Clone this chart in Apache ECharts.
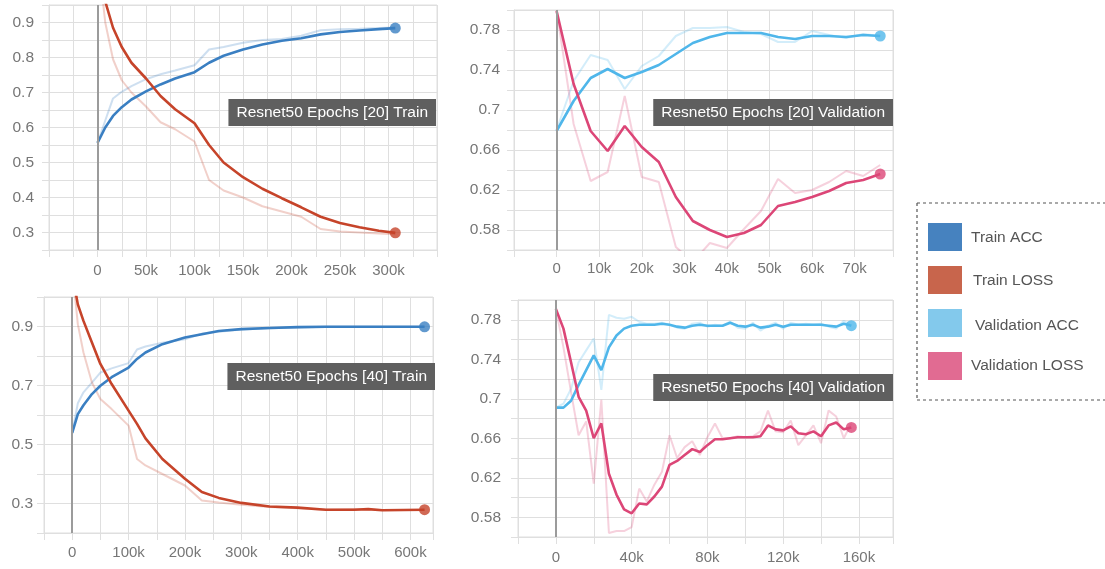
<!DOCTYPE html>
<html>
<head>
<meta charset="utf-8">
<title>Resnet50 training curves</title>
<script src="https://cdn.jsdelivr.net/npm/echarts@6/dist/echarts.min.js"></script>
<style>
  html, body { margin: 0; padding: 0; background: #fff; overflow: hidden; }
  #chart { width: 1105px; height: 569px; }
</style>
</head>
<body>
<div id="chart"></div>
<script>
// ---- Resnet50, 20 epochs: training (step, accuracy, loss) ----
const trainSteps20 = [0, 8000, 16000, 25000, 35000, 50000, 65000, 80000, 100000, 115000, 130000, 150000, 170000, 190000, 210000, 230000, 250000, 270000, 290000, 307000];
const trainAcc20     = [0.556, 0.600, 0.633, 0.658, 0.680, 0.703, 0.723, 0.740, 0.758, 0.785, 0.805, 0.823, 0.837, 0.848, 0.855, 0.866, 0.873, 0.877, 0.881, 0.884];
const trainAccRaw20  = [0.555, 0.620, 0.683, 0.702, 0.718, 0.738, 0.752, 0.763, 0.778, 0.823, 0.830, 0.842, 0.850, 0.853, 0.862, 0.878, 0.881, 0.882, 0.884, 0.886];
const trainLoss20    = [1.080, 0.960, 0.885, 0.830, 0.785, 0.740, 0.690, 0.652, 0.612, 0.550, 0.500, 0.458, 0.425, 0.398, 0.372, 0.345, 0.327, 0.315, 0.305, 0.299];
const trainLossRaw20 = [1.100, 0.900, 0.795, 0.735, 0.700, 0.660, 0.615, 0.595, 0.560, 0.450, 0.420, 0.400, 0.375, 0.360, 0.345, 0.310, 0.303, 0.300, 0.297, 0.295];

// ---- Resnet50, 20 epochs: validation ----
const valSteps20 = [0, 4000, 8000, 12000, 16000, 20000, 24000, 28000, 32000, 36000, 40000, 44000, 48000, 52000, 56000, 60000, 64000, 68000, 72000, 76000];
const valAcc20     = [0.679, 0.709, 0.732, 0.741, 0.732, 0.738, 0.745, 0.756, 0.767, 0.773, 0.777, 0.777, 0.777, 0.773, 0.771, 0.774, 0.774, 0.773, 0.775, 0.774];
const valAccRaw20  = [0.680, 0.729, 0.755, 0.750, 0.721, 0.744, 0.754, 0.774, 0.782, 0.782, 0.783, 0.778, 0.776, 0.768, 0.768, 0.779, 0.775, 0.772, 0.776, 0.774];
const valLoss20    = [0.799, 0.726, 0.679, 0.659, 0.684, 0.663, 0.648, 0.613, 0.589, 0.580, 0.573, 0.577, 0.585, 0.604, 0.608, 0.613, 0.619, 0.627, 0.630, 0.636];
const valLossRaw20 = [0.800, 0.686, 0.629, 0.638, 0.714, 0.633, 0.628, 0.563, 0.548, 0.567, 0.562, 0.581, 0.599, 0.631, 0.617, 0.620, 0.628, 0.639, 0.634, 0.645];

// ---- Resnet50, 40 epochs: training ----
const trainSteps40 = [0, 10000, 20000, 35000, 50000, 70000, 100000, 115000, 130000, 160000, 200000, 230000, 260000, 300000, 350000, 400000, 450000, 500000, 525000, 550000, 625000];
const trainAcc40     = [0.539, 0.603, 0.633, 0.671, 0.699, 0.728, 0.761, 0.790, 0.812, 0.840, 0.863, 0.874, 0.885, 0.891, 0.895, 0.898, 0.899, 0.899, 0.899, 0.899, 0.899];
const trainAccRaw40  = [0.539, 0.640, 0.677, 0.710, 0.744, 0.758, 0.776, 0.822, 0.832, 0.845, 0.857, 0.876, 0.882, 0.890, 0.894, 0.897, 0.899, 0.899, 0.899, 0.899, 0.899];
const trainLoss40    = [1.080, 0.975, 0.919, 0.846, 0.773, 0.705, 0.615, 0.570, 0.521, 0.451, 0.384, 0.339, 0.319, 0.302, 0.290, 0.286, 0.279, 0.279, 0.281, 0.277, 0.279];
const trainLossRaw40 = [1.100, 0.908, 0.812, 0.710, 0.654, 0.620, 0.564, 0.451, 0.429, 0.400, 0.361, 0.310, 0.303, 0.296, 0.288, 0.284, 0.279, 0.281, 0.280, 0.278, 0.278];

// ---- Resnet50, 40 epochs: validation ----
const valSteps40 = [0, 4000, 8000, 12000, 16000, 20000, 24000, 28000, 32000, 36000, 40000, 44000, 48000, 52000, 56000, 60000, 64000, 68000, 72000, 76000,
                    80000, 84000, 88000, 92000, 96000, 100000, 104000, 108000, 112000, 116000, 120000, 124000, 128000, 132000, 136000, 140000, 144000, 148000, 152000, 156000];
const valAcc40     = [0.691, 0.691, 0.698, 0.714, 0.729, 0.744, 0.729, 0.752, 0.764, 0.771, 0.774, 0.775, 0.775, 0.775, 0.776, 0.775, 0.773, 0.772, 0.774, 0.775,
                      0.774, 0.774, 0.774, 0.777, 0.774, 0.773, 0.775, 0.772, 0.773, 0.775, 0.773, 0.775, 0.775, 0.775, 0.775, 0.775, 0.774, 0.773, 0.776, 0.774];
const valAccRaw40  = [0.691, 0.695, 0.710, 0.737, 0.749, 0.761, 0.709, 0.785, 0.782, 0.781, 0.783, 0.778, 0.776, 0.776, 0.777, 0.775, 0.772, 0.771, 0.776, 0.777,
                      0.773, 0.775, 0.774, 0.778, 0.772, 0.771, 0.777, 0.769, 0.774, 0.777, 0.771, 0.777, 0.775, 0.776, 0.775, 0.776, 0.773, 0.771, 0.779, 0.774];
const valLoss40    = [0.791, 0.771, 0.737, 0.702, 0.688, 0.660, 0.675, 0.624, 0.603, 0.588, 0.584, 0.594, 0.593, 0.601, 0.611, 0.633, 0.637, 0.643, 0.649, 0.646,
                      0.653, 0.659, 0.659, 0.660, 0.661, 0.661, 0.661, 0.662, 0.673, 0.669, 0.668, 0.672, 0.665, 0.664, 0.667, 0.662, 0.673, 0.676, 0.669, 0.671];
const valLossRaw40 = [0.791, 0.752, 0.707, 0.663, 0.677, 0.614, 0.699, 0.564, 0.566, 0.566, 0.570, 0.609, 0.596, 0.613, 0.626, 0.663, 0.640, 0.651, 0.657, 0.643,
                      0.661, 0.675, 0.660, 0.660, 0.662, 0.661, 0.662, 0.667, 0.688, 0.667, 0.666, 0.678, 0.653, 0.663, 0.673, 0.655, 0.688, 0.682, 0.660, 0.675];

// ---- text ----
const panelTitles = ['Resnet50 Epochs [20] Train', 'Resnet50 Epochs [20] Validation', 'Resnet50 Epochs [40] Train', 'Resnet50 Epochs [40] Validation'];
const legendNames = ['Train ACC', 'Train LOSS', 'Validation ACC', 'Validation LOSS'];

// ---- styling ----
const FONT = '"Liberation Sans", Arial, Helvetica, sans-serif';
const GRID_COLOR = '#dfdfdf';
const LABEL_COLOR = '#767676';
const COLORS = {
  trainAcc: '#3a7fc2',
  trainLoss: '#c6442a',
  valAcc: '#4fb6ea',
  valLoss: '#dc4677'
};
const SWATCHES = ['#4682bf', '#c8654c', '#83c9ec', '#e16b92'];

function pairs(xs, ys) { return xs.map((x, i) => [x, ys[i]]); }
function kLabel(v) { return v === 0 ? '0' : (v / 1000) + 'k'; }

const grids = [];
const xAxes = [];
const yAxes = [];
const series = [];
const titles = [];

function addPanel(p) {
  const idx = grids.length;
  grids.push({
    left: p.grid[0], top: p.grid[1], width: p.grid[2], height: p.grid[3],
    show: true, borderColor: GRID_COLOR, borderWidth: 1, backgroundColor: 'transparent',
    containLabel: false, outerBoundsMode: 'none'
  });
  xAxes.push({
    type: 'value', gridIndex: idx, min: p.x.min, max: p.x.max, interval: p.x.interval,
    axisLine: { show: true, onZero: false, lineStyle: { color: GRID_COLOR, width: 1 } },
    axisTick: { show: true, length: 7, lineStyle: { color: GRID_COLOR } },
    splitLine: { show: true, lineStyle: { color: GRID_COLOR, width: 1 } },
    axisLabel: {
      color: LABEL_COLOR, fontFamily: FONT, fontSize: 15, margin: p.x.margin,
      showMinLabel: true, showMaxLabel: true,
      formatter: v => {
        const r = Math.round(v);
        if (r < 0 || r > p.x.lastLabel || r % p.x.labelStep !== 0) return '';
        return kLabel(r);
      }
    }
  });
  yAxes.push({
    type: 'value', gridIndex: idx, min: p.y.min, max: p.y.max, interval: p.y.interval,
    axisLine: { show: true, onZero: false, lineStyle: { color: GRID_COLOR, width: 1 } },
    axisTick: { show: true, length: 7, lineStyle: { color: GRID_COLOR } },
    splitLine: { show: true, lineStyle: { color: GRID_COLOR, width: 1 } },
    axisLabel: {
      color: LABEL_COLOR, fontFamily: FONT, fontSize: 15.5, margin: p.y.margin,
      showMinLabel: true, showMaxLabel: true,
      formatter: p.y.format
    }
  });

  const lines = [
    { name: p.names[0], xs: p.steps, ys: p.accRaw, color: p.colors[0], raw: true },
    { name: p.names[1], xs: p.steps, ys: p.lossRaw, color: p.colors[1], raw: true },
    { name: p.names[0], xs: p.steps, ys: p.acc, color: p.colors[0], raw: false },
    { name: p.names[1], xs: p.steps, ys: p.loss, color: p.colors[1], raw: false }
  ];
  lines.forEach((l, k) => {
    const s = {
      type: 'line', name: l.name, xAxisIndex: idx, yAxisIndex: idx,
      data: pairs(l.xs, l.ys), showSymbol: false, smooth: false, clip: true,
      lineStyle: { color: l.color, width: l.raw ? 2 : 2.6, opacity: l.raw ? 0.25 : 1 },
      itemStyle: { color: l.color },
      z: l.raw ? 2 : 3, silent: true, animation: false
    };
    if (k === 0) {
      // step = 0 marker line
      s.markLine = {
        silent: true, symbol: 'none', animation: false,
        label: { show: false },
        lineStyle: { color: '#9b9b9b', width: 2, type: 'solid', opacity: 1 },
        data: [{ xAxis: 0 }]
      };
      s.z = 1;
    }
    series.push(s);
    if (!l.raw) {
      const last = l.xs.length - 1;
      series.push({
        type: 'scatter', name: l.name, xAxisIndex: idx, yAxisIndex: idx,
        data: [[l.xs[last], l.ys[last]]], symbol: 'circle', symbolSize: 11,
        itemStyle: { color: l.color }, z: 4, silent: true, animation: false
      });
    }
  });

  titles.push({
    text: p.title, right: p.titlePos[0], top: p.titlePos[1],
    backgroundColor: '#5f5f5f', padding: [6, 8, 5, 8],
    textStyle: { color: '#ffffff', fontFamily: FONT, fontSize: 15.5, fontWeight: 'normal', lineHeight: 16 }
  });
}

const fmtTenth = v => (Math.round(v * 100) % 10 === 0 ? v.toFixed(1) : '');
const fmtOddTenth = v => (Math.round(v * 10) % 2 === 1 ? v.toFixed(1) : '');
const fmtVal = v => (Math.round(v * 100) % 4 === 2 ? String(+v.toFixed(2)) : '');

addPanel({
  grid: [49, 5, 388, 245],
  x: { min: -50000, max: 350000, interval: 25000, labelStep: 50000, lastLabel: 300000, margin: 13 },
  y: { min: 0.25, max: 0.95, interval: 0.05, margin: 15, format: fmtTenth },
  steps: trainSteps20, acc: trainAcc20, accRaw: trainAccRaw20, loss: trainLoss20, lossRaw: trainLossRaw20,
  names: [legendNames[0], legendNames[1]], colors: [COLORS.trainAcc, COLORS.trainLoss],
  title: panelTitles[0], titlePos: [669, 99]
});
addPanel({
  grid: [514, 10, 379, 240],
  x: { min: -10000, max: 79000, interval: 10000, labelStep: 10000, lastLabel: 70000, margin: 11 },
  y: { min: 0.56, max: 0.80, interval: 0.02, margin: 14, format: fmtVal },
  steps: valSteps20, acc: valAcc20, accRaw: valAccRaw20, loss: valLoss20, lossRaw: valLossRaw20,
  names: [legendNames[2], legendNames[3]], colors: [COLORS.valAcc, COLORS.valLoss],
  title: panelTitles[1], titlePos: [212, 99]
});
addPanel({
  grid: [44, 297, 389, 236],
  x: { min: -50000, max: 640000, interval: 50000, labelStep: 100000, lastLabel: 600000, margin: 12 },
  y: { min: 0.2, max: 1.0, interval: 0.1, margin: 11, format: fmtOddTenth },
  steps: trainSteps40, acc: trainAcc40, accRaw: trainAccRaw40, loss: trainLoss40, lossRaw: trainLossRaw40,
  names: [legendNames[0], legendNames[1]], colors: [COLORS.trainAcc, COLORS.trainLoss],
  title: panelTitles[2], titlePos: [670, 363]
});
addPanel({
  grid: [518, 300, 375, 237],
  x: { min: -20000, max: 178000, interval: 20000, labelStep: 40000, lastLabel: 160000, margin: 13 },
  y: { min: 0.56, max: 0.80, interval: 0.02, margin: 17, format: fmtVal },
  steps: valSteps40, acc: valAcc40, accRaw: valAccRaw40, loss: valLoss40, lossRaw: valLossRaw40,
  names: [legendNames[2], legendNames[3]], colors: [COLORS.valAcc, COLORS.valLoss],
  title: panelTitles[3], titlePos: [212, 374]
});

// Legend panel: dashed frame (open to the right edge), colour swatches and names
const legendRows = [
  { sy: 223, tx: 971, ty: 238 },
  { sy: 266, tx: 973, ty: 281 },
  { sy: 309, tx: 975, ty: 326 },
  { sy: 352, tx: 971, ty: 366 }
];
const frameDash = { stroke: '#555', lineWidth: 1.2, lineDash: [3, 3] };
const legendGraphics = [
  { type: 'line', shape: { x1: 917, y1: 203, x2: 1105, y2: 203 }, style: frameDash, silent: true },
  { type: 'line', shape: { x1: 917, y1: 203, x2: 917, y2: 400 }, style: frameDash, silent: true },
  { type: 'line', shape: { x1: 917, y1: 400, x2: 1105, y2: 400 }, style: frameDash, silent: true }
];
legendNames.forEach((n, i) => {
  const r = legendRows[i];
  legendGraphics.push({
    type: 'rect', shape: { x: 928, y: r.sy, width: 34, height: 28 },
    style: { fill: SWATCHES[i] }, silent: true
  });
  legendGraphics.push({
    type: 'text', x: r.tx, y: r.ty,
    style: { text: n, fill: '#555', font: '15.5px ' + FONT, textVerticalAlign: 'middle', verticalAlign: 'middle' },
    silent: true
  });
});

const chart = echarts.init(document.getElementById('chart'), null, { renderer: 'canvas' });
chart.setOption({
  backgroundColor: '#ffffff',
  animation: false,
  title: titles,
  grid: grids,
  xAxis: xAxes,
  yAxis: yAxes,
  series: series,
  graphic: legendGraphics
});
</script>
</body>
</html>
